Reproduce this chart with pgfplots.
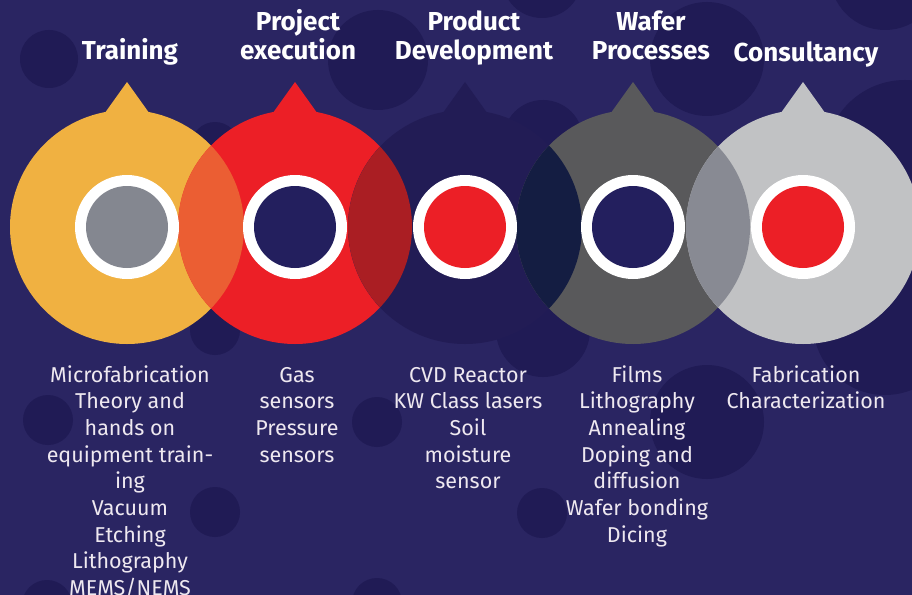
\documentclass[border=0pt]{standalone}
\usepackage{pgfplots}
\pgfplotsset{compat=1.18}
\usepackage{fontspec}
\setmainfont{Fira Sans}
\definecolor{bg}{HTML}{2A2562}
\definecolor{dot}{HTML}{201B55}
\definecolor{cyellow}{HTML}{F0B141}
\definecolor{cred}{HTML}{EC1F26}
\definecolor{lensA}{HTML}{EB5E33}
\definecolor{cprod}{HTML}{221C55}
\definecolor{lensB}{HTML}{AA1E23}
\definecolor{lensC}{HTML}{141D42}
\definecolor{cwafer}{HTML}{59595B}
\definecolor{lensD}{HTML}{888A93}
\definecolor{ccons}{HTML}{C1C2C4}
\definecolor{igrey}{HTML}{848790}
\definecolor{inavy}{HTML}{231F5E}
\definecolor{btext}{HTML}{EEE8F0}
\tikzset{
  ttl/.style={font=\fontsize{26bp}{29.5bp}\selectfont\bfseries, text=white, anchor=base, align=center, inner sep=0pt},
  bdy/.style={font=\fontsize{21.5bp}{26.7bp}\selectfont, text=btext, anchor=base, align=center, inner sep=0pt},
}
\begin{document}
\begin{tikzpicture}
\begin{axis}[scale only axis, width=912bp, height=595bp,
  xmin=0, xmax=912, ymin=0, ymax=595, y dir=reverse,
  hide axis, clip=true]
% background
\fill[bg] (axis cs:0,0) rectangle (axis cs:912,595);
% decorative dots
\fill[dot] (axis cs:49,59) circle[radius=29bp];
\fill[dot] (axis cs:378,60) circle[radius=50bp];
\fill[dot] (axis cs:542,-22) circle[radius=40bp];
\fill[dot] (axis cs:707,59) circle[radius=57bp];
\fill[dot] (axis cs:885,-25) circle[radius=55bp];
\fill[dot] (axis cs:905,160) circle[radius=80bp];
\fill[dot] (axis cs:885,323) circle[radius=72bp];
\fill[dot] (axis cs:215,146) circle[radius=24bp];
\fill[dot] (axis cs:543,140) circle[radius=40bp];
\fill[dot] (axis cs:215,330) circle[radius=25bp];
\fill[dot] (axis cs:543,330) circle[radius=47bp];
\fill[dot] (axis cs:48,420) circle[radius=25bp];
\fill[dot] (axis cs:377,422) circle[radius=25bp];
\fill[dot] (axis cs:707,422) circle[radius=57bp];
\fill[dot] (axis cs:215,512) circle[radius=25bp];
\fill[dot] (axis cs:542,513) circle[radius=25bp];
\fill[dot] (axis cs:47,605) circle[radius=25bp];
\fill[dot] (axis cs:377,603) circle[radius=25bp];
% tips
\addplot[draw=none, fill=cyellow] coordinates {(102,117) (127,82) (152,117)};
\addplot[draw=none, fill=cred] coordinates {(270,117) (295,82) (320,117)};
\addplot[draw=none, fill=cprod] coordinates {(440,117) (465,82) (490,117)};
\addplot[draw=none, fill=cwafer] coordinates {(608,117) (633,82) (658,117)};
\addplot[draw=none, fill=ccons] coordinates {(778,117) (803,82) (828,117)};
% big discs
\fill[cyellow] (axis cs:127,227) circle[radius=117bp];
\fill[cred] (axis cs:295,227) circle[radius=117bp];
\fill[cprod] (axis cs:465,227) circle[radius=117bp];
\fill[cwafer] (axis cs:633,227) circle[radius=117bp];
\fill[ccons] (axis cs:803,227) circle[radius=117bp];
% lenses
\begin{scope}
\clip (axis cs:127,227) circle[radius=117bp];
\fill[lensA] (axis cs:295,227) circle[radius=117bp];
\end{scope}
\begin{scope}
\clip (axis cs:295,227) circle[radius=117bp];
\fill[lensB] (axis cs:465,227) circle[radius=117bp];
\end{scope}
\begin{scope}
\clip (axis cs:465,227) circle[radius=117bp];
\fill[lensC] (axis cs:633,227) circle[radius=117bp];
\end{scope}
\begin{scope}
\clip (axis cs:633,227) circle[radius=117bp];
\fill[lensD] (axis cs:803,227) circle[radius=117bp];
\end{scope}
% rings
\fill[white] (axis cs:127,227) circle[radius=52bp];
\fill[white] (axis cs:295,227) circle[radius=52bp];
\fill[white] (axis cs:465,227) circle[radius=52bp];
\fill[white] (axis cs:633,227) circle[radius=52bp];
\fill[white] (axis cs:803,227) circle[radius=52bp];
\fill[igrey] (axis cs:127,227) circle[radius=41bp];
\fill[inavy] (axis cs:295,227) circle[radius=41bp];
\fill[cred] (axis cs:465,227) circle[radius=41bp];
\fill[inavy] (axis cs:633,227) circle[radius=41bp];
\fill[cred] (axis cs:803,227) circle[radius=41bp];
% titles (anchor = baseline of last line)
\node[ttl] at (axis cs:130,60) {Training};
\node[ttl] at (axis cs:298,60) {Project\\execution};
\node[ttl] at (axis cs:474,60) {Product\\Development};
\node[ttl] at (axis cs:651,60) {Wafer\\Processes};
\node[ttl] at (axis cs:806,62) {Consultancy};
% bodies (anchor = baseline of last line; first line at 382)
\node[bdy] at (axis cs:130,595.6) {Microfabrication\\Theory and\\hands on\\equipment train-\\ing\\Vacuum\\Etching\\Lithography\\MEMS/NEMS};
\node[bdy] at (axis cs:297,462.1) {Gas\\sensors\\Pressure\\sensors};
\node[bdy] at (axis cs:468,488.8) {CVD Reactor\\KW Class lasers\\Soil\\moisture\\sensor};
\node[bdy] at (axis cs:637,542.2) {Films\\Lithography\\Annealing\\Doping and\\diffusion\\Wafer bonding\\Dicing};
\node[bdy] at (axis cs:806,408.7) {Fabrication\\Characterization};
\end{axis}
\pgfresetboundingbox
\useasboundingbox (current axis.south west) rectangle (current axis.north east);
\end{tikzpicture}
\end{document}
